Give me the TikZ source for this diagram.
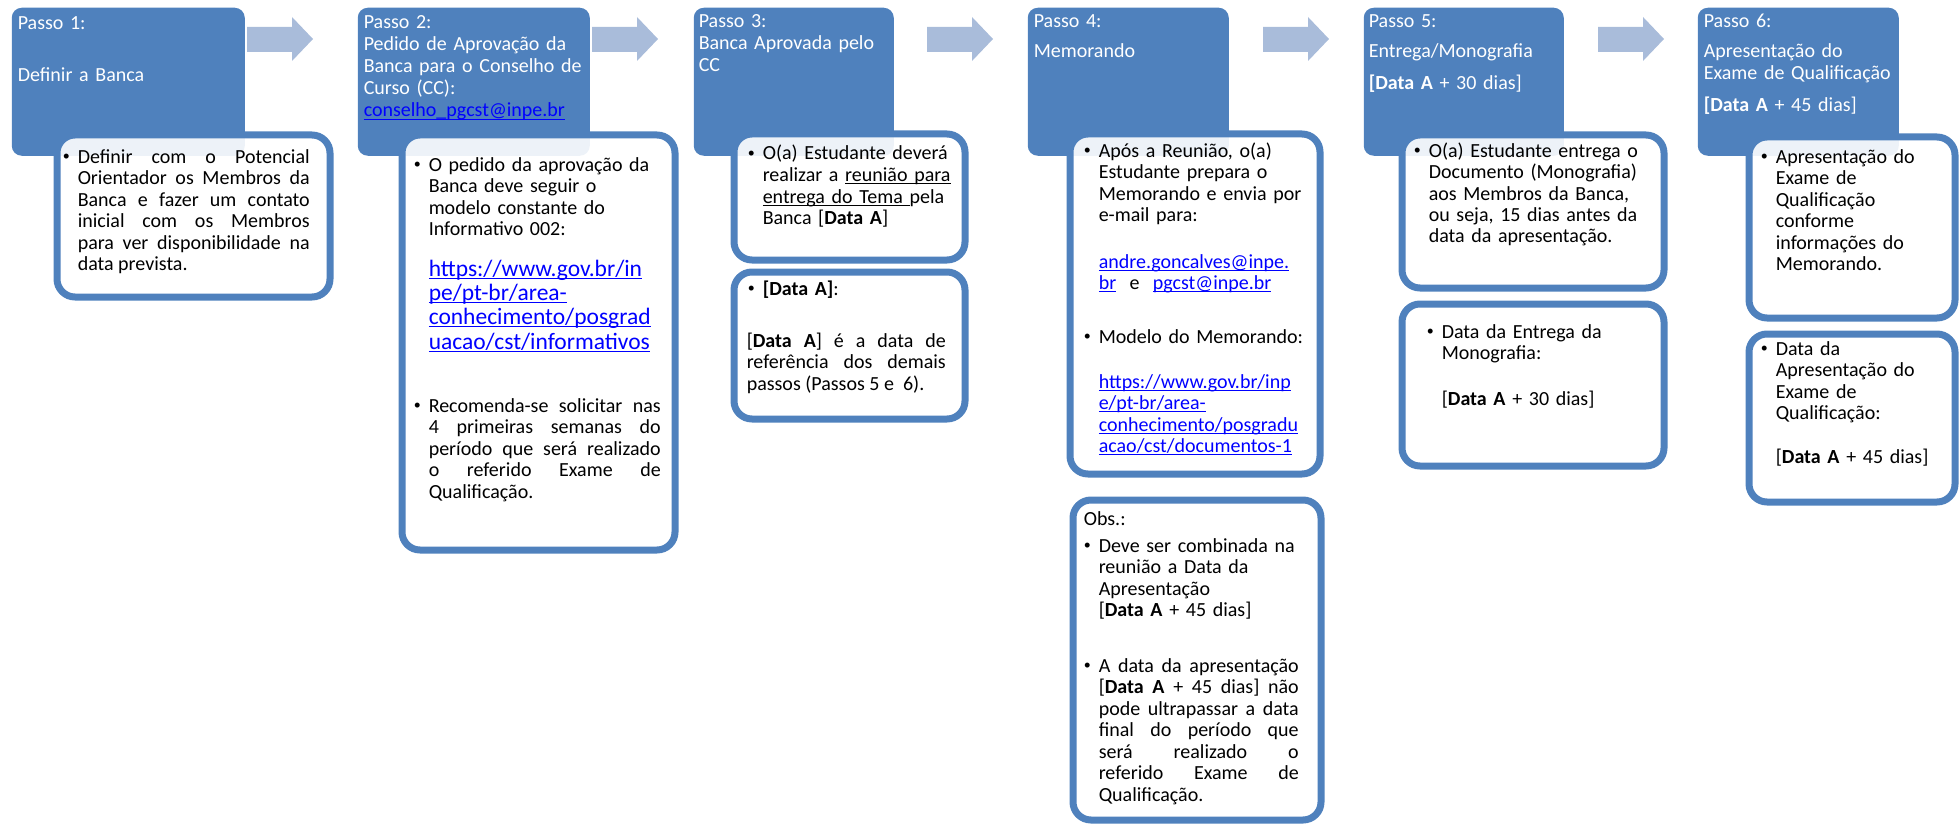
\documentclass[tikz,border=0pt]{standalone}
\usepackage{fontspec}
\setmainfont{Carlito}
\usepackage{tikz}
\hyphenpenalty=10000
\exhyphenpenalty=10000
\definecolor{hdrblue}{HTML}{4F81BD}
\definecolor{arrowblue}{HTML}{A9BCDA}
\definecolor{linkblue}{HTML}{0000FF}
\newcommand{\bodyfont}{\fontsize{10pt}{10.75pt}\selectfont}
\newcommand{\hdrfont}{\fontsize{10pt}{11pt}\selectfont}
\newcommand{\bigfont}{\fontsize{11.75pt}{12.2pt}\selectfont}
\newcommand{\bul}{\llap{\raisebox{1.1pt}{\fontsize{7pt}{7pt}\selectfont\textbullet}\hspace{4pt}}}
\newsavebox{\ulnbox}
\newcommand{\uln}[1]{\sbox{\ulnbox}{#1}\leavevmode\rlap{\usebox{\ulnbox}}\rule[-1.3pt]{\wd\ulnbox}{0.5pt}}
\newcommand{\lnk}[1]{\textcolor{linkblue}{\uln{#1}}}
\tikzset{every picture/.style={line width=0.75pt}}
\tikzset{
  hdr/.style={fill=hdrblue, rounded corners=5pt, anchor=north west, inner sep=0pt},
  detbox/.style={draw=hdrblue, line width=3.5pt, fill=white, fill opacity=0.9, rounded corners=9pt, anchor=north west, inner sep=0pt},
  hdrtxt/.style={anchor=base west, inner sep=0pt, text=white, text width=#1, font=\hdrfont},
  bodytxt/.style={anchor=base west, inner sep=0pt, text width=#1, font=\bodyfont},
  justtxt/.style={bodytxt=#1, align=justify},
}

\begin{document}
\begin{tikzpicture}[x=0.5pt,y=0.5pt,yscale=-1,xscale=1]
\useasboundingbox (0,0) rectangle (1959,824);

%Shape: Header boxes
\node[hdr, minimum width=116.5pt, minimum height=74pt] (h1) at (11,7) {};
\node[hdr, minimum width=116pt, minimum height=74pt] (h2) at (357,7) {};
\node[hdr, minimum width=100pt, minimum height=74pt] (h3) at (693,7) {};
\node[hdr, minimum width=100.5pt, minimum height=74pt] (h4) at (1027,7) {};
\node[hdr, minimum width=100pt, minimum height=74pt] (h5) at (1363,7) {};
\node[hdr, minimum width=100.5pt, minimum height=74pt] (h6) at (1697,7) {};

%Shape: Block arrows between the steps
\foreach \x in {247,592,927,1263,1598}
  \fill[arrowblue] (\x,27) -- (\x+45,27) -- (\x+45,17) -- (\x+66,39) -- (\x+45,61) -- (\x+45,52) -- (\x,52) -- cycle ;

%Shape: Detail boxes
\node[detbox, minimum width=136.5pt, minimum height=81pt] (d1) at (53.5,131.5) {};
\node[detbox, minimum width=136.5pt, minimum height=207.5pt] (d2) at (398.5,131.5) {};
\node[detbox, minimum width=115.5pt, minimum height=63pt] (d3a) at (730.5,130.5) {};
\node[detbox, minimum width=115.5pt, minimum height=73.5pt] (d3b) at (730.5,268.5) {};
\node[detbox, minimum width=125pt, minimum height=170pt] (d4a) at (1066.5,130.5) {};
\node[detbox, minimum width=124pt, minimum height=160pt] (d4b) at (1069.5,496.5) {};
\node[detbox, minimum width=131pt, minimum height=76.5pt] (d5a) at (1398.5,131.5) {};
\node[detbox, minimum width=131pt, minimum height=81pt] (d5b) at (1398.5,300.5) {};
\node[detbox, minimum width=103pt, minimum height=90.5pt] (d6a) at (1745.5,133.5) {};
\node[detbox, minimum width=103pt, minimum height=84pt] (d6b) at (1745.5,330.5) {};

% Text Node
\node[hdrtxt=112pt] (h1t) at (17,30) {Passo 1:\\[15pt]Definir a Banca};
% Text Node
\node[hdrtxt=112pt] (h2t) at (363,29) {Passo 2:\\Pedido de Aprovação da\\Banca para o Conselho de\\Curso (CC):\\\lnk{conselho\_pgcst@inpe.br}};
% Text Node
\node[hdrtxt=98pt] (h3t) at (698,28) {Passo 3:\\Banca Aprovada pelo\\CC};
% Text Node
\node[hdrtxt=98pt] (h4t) at (1033,28) {Passo 4:\\[4pt]Memorando};
% Text Node
\node[hdrtxt=98pt] (h5t) at (1368,28) {Passo 5:\\[4pt]Entrega/Monografia\\[5pt]\textbf{[Data A} + 30 dias]};
% Text Node
\node[hdrtxt=98pt] (h6t) at (1703,28) {Passo 6:\\[4pt]Apresentação do\\Exame de Qualificação\\[5pt]\textbf{[Data A} + 45 dias]};

% Text Node
\node[justtxt=116pt] (d1t) at (77,163) {\bul Definir com o Potencial\linebreak Orientador os Membros da\linebreak Banca e fazer um contato\linebreak inicial com os Membros\linebreak para ver disponibilidade na\linebreak data prevista.};
% Text Node
\node[bodytxt=124pt] (d2t1) at (428,171) {\bul O pedido da aprovação da\newline Banca deve seguir o\newline modelo constante do\newline Informativo 002:};
% Text Node
\node[bodytxt=124pt, font=\bigfont] (d2t2) at (428,276) {\lnk{https://www.gov.br/in}\newline\lnk{pe/pt-br/area-}\newline\lnk{conhecimento/posgrad}\newline\lnk{uacao/cst/informativos}};
% Text Node
\node[justtxt=116pt] (d2t3) at (428,412) {\bul Recomenda-se solicitar nas\linebreak 4 primeiras semanas do\linebreak período que será realizado\linebreak o referido Exame de\linebreak Qualificação.};
% Text Node
\node[bodytxt=104pt] (d3at) at (762,160) {\bul O(a) Estudante deverá\newline realizar a \uln{reunião para}\newline \uln{entrega do Tema }pela\newline Banca [\textbf{Data A}]};
% Text Node
\node[bodytxt=100pt] (d3bt1) at (762,295) {\bul\textbf{[Data A]}:};
% Text Node
\node[justtxt=99.5pt] (d3bt2) at (746,347) {[\textbf{Data A}] é a data de\linebreak referência dos demais\linebreak passos (Passos 5 e\ \ 6).};
% Text Node
\node[bodytxt=114pt] (d4at1) at (1098,157) {\bul Após a Reunião, o(a)\newline Estudante prepara o\newline Memorando e envia por\newline e-mail para:};
% Text Node
\node[bodytxt=114pt] (d4at2) at (1098,268) {\lnk{andre.goncalves@inpe.}\newline\lnk{br}\ \ e\ \ \lnk{pgcst@inpe.br}};
% Text Node
\node[bodytxt=114pt] (d4at3) at (1098,343) {\bul Modelo do Memorando:};
% Text Node
\node[bodytxt=114pt] (d4at4) at (1098,388) {\lnk{https://www.gov.br/inp}\newline\lnk{e/pt-br/area-}\newline\lnk{conhecimento/posgradu}\newline\lnk{acao/cst/documentos-1}};
% Text Node
\node[bodytxt=108pt] (d4bt0) at (1083,525) {Obs.:};
% Text Node
\node[bodytxt=108pt] (d4bt1) at (1098,552) {\bul Deve ser combinada na\newline reunião a Data da\newline Apresentação\newline [\textbf{Data A} + 45 dias]};
% Text Node
\node[justtxt=100pt] (d4bt2) at (1098,672) {\bul A data da apresentação\linebreak{[}\textbf{Data A} + 45 dias] não\linebreak pode ultrapassar a data\linebreak final do período que\linebreak será realizado o\linebreak referido Exame de\linebreak Qualificação.};
% Text Node
\node[bodytxt=114pt] (d5at) at (1428,157) {\bul O(a) Estudante entrega o\newline Documento (Monografia)\newline aos Membros da Banca,\newline ou seja, 15 dias antes da\newline data da apresentação.};
% Text Node
\node[bodytxt=106pt] (d5bt1) at (1441,338) {\bul Data da Entrega da\newline Monografia:};
% Text Node
\node[bodytxt=106pt] (d5bt2) at (1441,405) {[\textbf{Data A} + 30 dias]};
% Text Node
\node[bodytxt=90pt] (d6at) at (1775,163) {\bul Apresentação do\newline Exame de\newline Qualificação\newline conforme\newline informações do\newline Memorando.};
% Text Node
\node[bodytxt=90pt] (d6bt1) at (1775,355) {\bul Data da\newline Apresentação do\newline Exame de\newline Qualificação:};
% Text Node
\node[bodytxt=90pt] (d6bt2) at (1775,463) {[\textbf{Data A} + 45 dias]};

\end{tikzpicture}
\end{document}
